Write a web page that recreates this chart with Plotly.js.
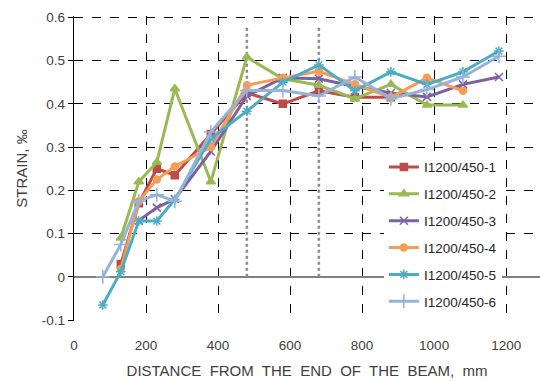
<!DOCTYPE html>
<html>
<head>
<meta charset="utf-8">
<script src="https://cdn.plot.ly/plotly-3.0.1.min.js"></script>
<style>html,body{margin:0;padding:0;background:#fff;}#chart{width:540px;height:381px;}</style>
</head>
<body>
<div id="chart"></div>
<script>
// Distances (mm)
const xRed    = [130, 180, 230, 280, 380, 480, 580, 680, 780, 880];
const yRed    = [0.03, 0.17, 0.25, 0.235, 0.33, 0.425, 0.40, 0.43, 0.415, 0.415];
const xGreen  = [130, 180, 230, 280, 380, 480, 580, 680, 780, 880, 980, 1080];
const yGreen  = [0.09, 0.22, 0.265, 0.435, 0.22, 0.508, 0.458, 0.443, 0.412, 0.445, 0.397, 0.397];
const xPurple = [180, 230, 280, 380, 480, 580, 680, 780, 880, 980, 1080, 1180];
const yPurple = [0.13, 0.16, 0.18, 0.29, 0.418, 0.46, 0.458, 0.44, 0.425, 0.416, 0.445, 0.462];
const xOrange = [130, 180, 230, 280, 380, 480, 580, 680, 780, 880, 980, 1080];
const yOrange = [0.018, 0.175, 0.225, 0.255, 0.30, 0.443, 0.46, 0.475, 0.445, 0.415, 0.46, 0.43];
const xTeal   = [80, 130, 180, 230, 280, 380, 480, 580, 680, 780, 880, 980, 1080, 1180];
const yTeal   = [-0.065, 0.012, 0.129, 0.129, 0.179, 0.32, 0.383, 0.45, 0.49, 0.43, 0.474, 0.445, 0.474, 0.522];
const xLight  = [80, 130, 180, 230, 280, 380, 480, 580, 680, 780, 880, 980, 1080, 1180];
const yLight  = [0.0, 0.075, 0.175, 0.19, 0.175, 0.335, 0.431, 0.431, 0.418, 0.462, 0.412, 0.433, 0.462, 0.51];
const seriesNames = ['I1200/450-1','I1200/450-2','I1200/450-3','I1200/450-4','I1200/450-5','I1200/450-6'];
const refLineX = [480, 680];
const refLineY = [0, 0.58];
const xTicks = [0, 200, 400, 600, 800, 1000, 1200];
const yTicks = [-0.1, 0, 0.1, 0.2, 0.3, 0.4, 0.5, 0.6];

const colors = ['#BE4B48', '#98B954', '#7D60A0', '#F59D56', '#4BACC6', '#95B3D7'];
const symbols = ['square', 'triangle-up', 'x-thin', 'circle', 'asterisk', 'cross-thin'];
const sizes = [7, 8, 8, 7, 8, 10];
const xs = [xRed, xGreen, xPurple, xOrange, xTeal, xLight];
const ys = [yRed, yGreen, yPurple, yOrange, yTeal, yLight];

const traces = [];
refLineX.forEach(function(x){
  traces.push({
    x: [x, x], y: refLineY, mode: 'lines', showlegend: false, hoverinfo: 'skip',
    line: {color: '#8c8c8c', width: 2.5, dash: 'dot'}
  });
});
for (let i = 0; i < 6; i++) {
  traces.push({
    x: xs[i], y: ys[i], name: seriesNames[i], mode: 'lines+markers',
    legendgroup: 'g' + i,
    line: {color: colors[i], width: 3},
    marker: {symbol: symbols[i], size: sizes[i], color: colors[i],
             line: {color: colors[i], width: 1.5}}
  });
}

const layout = {
  width: 540, height: 381,
  margin: {l: 74, r: 0, t: 16, b: 60},
  paper_bgcolor: '#fff', plot_bgcolor: '#fff',
  font: {family: 'Liberation Sans, Arial, sans-serif', size: 13, color: '#404040'},
  showlegend: true,
  legend: {
    x: 0.665, y: 0.555, xanchor: 'left', yanchor: 'top',
    bgcolor: '#ffffff', borderwidth: 0,
    font: {family: 'Liberation Sans, Arial, sans-serif', size: 13.5, color: '#262626'},
    traceorder: 'grouped', tracegroupgap: 6.3
  },
  xaxis: {
    range: [0, 1294], tickvals: xTicks, ticktext: xTicks.map(String),
    showgrid: true, gridcolor: '#000', gridwidth: 1, griddash: 'dash',
    zeroline: false, showline: false,
    ticks: 'outside', ticklen: 12, tickcolor: 'rgba(0,0,0,0)',
    tickfont: {size: 13.5, color: '#404040'},
    title: {text: 'DISTANCE  FROM  THE  END  OF  THE  BEAM,  mm', standoff: 13,
            font: {size: 15, color: '#404040'}}
  },
  yaxis: {
    range: [-0.102, 0.603], tickvals: yTicks, ticktext: yTicks.map(function(v){return v === 0 ? '0' : String(v);}),
    showgrid: true, gridcolor: '#000', gridwidth: 1, griddash: 'dash',
    zeroline: true, zerolinecolor: '#808080', zerolinewidth: 2,
    showline: true, linecolor: '#000', linewidth: 1.2,
    ticks: 'outside', ticklen: 5, tickcolor: '#000',
    tickfont: {size: 13.5, color: '#404040'},
    title: {text: 'STRAIN, ‰', standoff: 10, font: {size: 15, color: '#404040'}}
  }
};

Plotly.newPlot('chart', traces, layout, {staticPlot: true, displayModeBar: false});
</script>
</body>
</html>
